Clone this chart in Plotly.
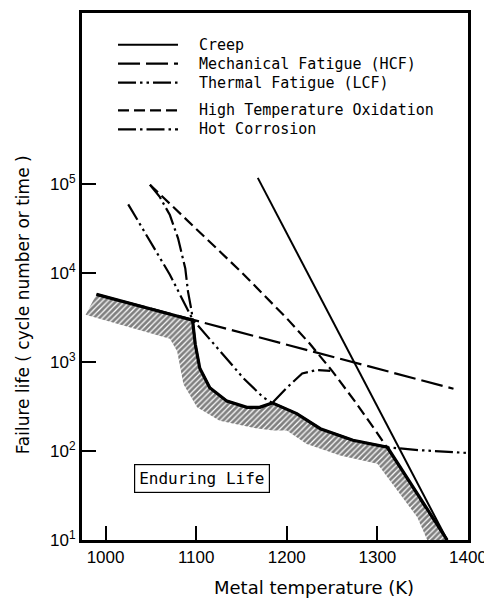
import plotly.graph_objects as go

# ---------------- data ----------------
# Metal temperature (K) and failure life values
creep_T = [1168, 1377]
creep_life = [117000, 10]

hcf_T = [990, 1384]
hcf_life = [5750, 500]

lcf_T = [1025, 1048, 1071, 1096, 1126, 1152, 1174, 1184, 1211, 1237, 1273, 1311, 1347, 1399]
lcf_life = [59000, 23400, 9550, 3020, 1320, 660, 400, 347, 263, 178, 132, 110, 102, 95]

oxid_T = [1049, 1100, 1150, 1200, 1225, 1250, 1275, 1300, 1325, 1350, 1377]
oxid_life = [98000, 31600, 10200, 3090, 1620, 794, 363, 158, 66, 26, 10]

hotc_T = [1049, 1060, 1071, 1080, 1088, 1091, 1095, 1099, 1104, 1115, 1134, 1156,
          1170, 1184, 1200, 1217, 1233, 1248]
hotc_life = [98000, 71000, 44700, 24500, 11200, 6170, 3720, 1580, 850, 513, 363, 309,
             309, 347, 513, 741, 813, 794]

# lower envelope of all failure modes (upper edge of the hatched band)
env_T = [990, 1096, 1099, 1104, 1115, 1134, 1156, 1170, 1184, 1211, 1237, 1273, 1311,
         1325, 1350, 1377]
env_life = [5750, 2950, 1580, 850, 513, 363, 309, 309, 347, 263, 178, 132, 110,
            66, 26, 10]

# lower edge of the hatched band
band_T = [978, 1071, 1079, 1086, 1101, 1126, 1163, 1185, 1200, 1222, 1259, 1300, 1344, 1355]
band_life = [3400, 1820, 1320, 562, 309, 219, 182, 170, 170, 120, 89, 72, 18, 10]

x_ticks = [1000, 1100, 1200, 1300, 1400]
y_ticks = [10, 100, 1000, 10000, 100000]
y_ticktext = ["10<sup>1</sup>", "10<sup>2</sup>", "10<sup>3</sup>", "10<sup>4</sup>", "10<sup>5</sup>"]

series_names = ["Creep", "Mechanical Fatigue (HCF)", "Thermal Fatigue (LCF)",
                "High Temperature Oxidation", "Hot Corrosion"]
series_dash = ["solid", "22px,6px", "18px,4px,2.5px,4px,2.5px,4px", "11px,5px",
               "18px,4px,2.5px,4px"]
series_width = [2, 2.2, 2.2, 2.2, 2.2]

# ---------------- figure ----------------
fig = go.Figure()

# hatched "enduring life" boundary band
poly_T = env_T + band_T[::-1]
poly_life = env_life + band_life[::-1]
fig.add_trace(go.Scatter(
    x=poly_T, y=poly_life, mode="lines", fill="toself",
    line=dict(width=0, color="rgba(0,0,0,0)"),
    fillcolor="white",
    fillpattern=dict(shape="/", fgcolor="black", bgcolor="white", size=4, solidity=0.7),
    showlegend=False, hoverinfo="skip"))

xs = [creep_T, hcf_T, lcf_T, oxid_T, hotc_T]
ys = [creep_life, hcf_life, lcf_life, oxid_life, hotc_life]
for i in range(5):
    fig.add_trace(go.Scatter(x=xs[i], y=ys[i], mode="lines", name=series_names[i],
                             line=dict(color="black", width=series_width[i],
                                       dash=series_dash[i])))

# thick envelope line
fig.add_trace(go.Scatter(x=env_T, y=env_life, mode="lines", showlegend=False,
                         hoverinfo="skip",
                         line=dict(color="black", width=3.2)))

# legend drawn inside the frame (line sample + label)
leg_rows = [0.9396, 0.9038, 0.8679, 0.8151, 0.7792]
for i in range(5):
    fig.add_shape(type="line", xref="paper", yref="paper",
                  x0=0.0933, x1=0.2487, y0=leg_rows[i], y1=leg_rows[i],
                  line=dict(color="black", width=series_width[i], dash=series_dash[i]))
    fig.add_annotation(x=0.298, y=leg_rows[i], xref="paper", yref="paper",
                       text=series_names[i], showarrow=False,
                       xanchor="left", yanchor="middle",
                       font=dict(family="DejaVu Sans Mono", size=15, color="black"))

fig.add_annotation(x=1106, y=1.69, xref="x", yref="y", text="Enduring Life",
                   showarrow=False, bordercolor="black", borderwidth=1.2, borderpad=4,
                   bgcolor="white",
                   font=dict(family="DejaVu Sans Mono", size=16, color="black"))

# axis titles
fig.add_annotation(x=0.601, y=-0.0906, xref="paper", yref="paper",
                   text="Metal temperature (K)", showarrow=False,
                   xanchor="center", yanchor="middle",
                   font=dict(family="DejaVu Sans", size=18, color="black"))
fig.add_annotation(x=-0.153, y=0.447, xref="paper", yref="paper",
                   text="Failure life ( cycle number or time )", showarrow=False,
                   textangle=-90, xanchor="center", yanchor="middle",
                   font=dict(family="DejaVu Sans", size=17, color="black"))

fig.update_xaxes(range=[974, 1400], tickvals=x_ticks, ticks="inside", ticklen=14,
                 tickwidth=1.5, tickcolor="black", showline=True, linewidth=3,
                 linecolor="black", mirror=True, showgrid=False, zeroline=False,
                 tickfont=dict(family="Liberation Sans", size=17, color="black"))
fig.update_yaxes(type="log", range=[1, 6.92], tickvals=y_ticks, ticktext=y_ticktext,
                 ticks="inside", ticklen=14, tickwidth=1.5, tickcolor="black",
                 showline=True, linewidth=3, linecolor="black", mirror=True,
                 showgrid=False, zeroline=False,
                 tickfont=dict(family="Liberation Sans", size=17, color="black"))

# the page adds an 8px body margin, so the figure is 8px smaller than the window
fig.update_layout(
    width=484, height=593,
    margin=dict(l=74, r=24, t=2, b=61),
    plot_bgcolor="white", paper_bgcolor="white",
    showlegend=False,
)

fig.write_html("out.html")
